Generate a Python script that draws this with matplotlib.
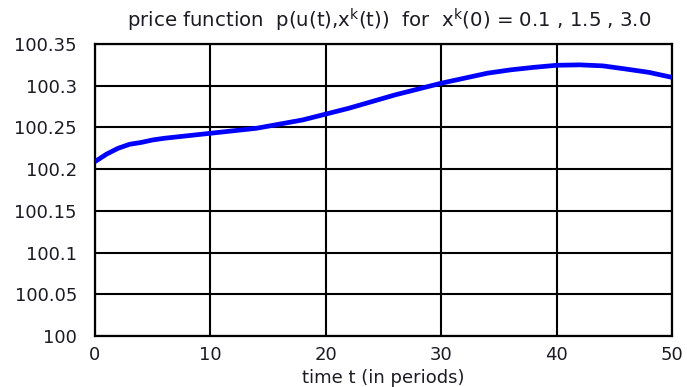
import matplotlib
matplotlib.use("Agg")
import matplotlib.pyplot as plt

# price path over time
t = [0, 1, 2, 3, 4, 5, 6, 8, 10, 12, 14, 16, 18, 20, 22, 24, 26, 28, 30,
     32, 34, 36, 38, 40, 42, 44, 46, 48, 50]
price = [100.209, 100.218, 100.225, 100.2298, 100.232, 100.235, 100.237,
         100.240, 100.243, 100.246, 100.249, 100.254, 100.259, 100.266,
         100.273, 100.281, 100.289, 100.296, 100.303, 100.309, 100.315,
         100.319, 100.322, 100.3245, 100.325, 100.3238, 100.320, 100.316,
         100.310]

x_ticks = [0, 10, 20, 30, 40, 50]
y_ticks = [100, 100.05, 100.1, 100.15, 100.2, 100.25, 100.3, 100.35]
y_tick_labels = ["100", "100.05", "100.1", "100.15", "100.2", "100.25",
                 "100.3", "100.35"]

plt.rcParams["font.family"] = ["DejaVu Sans"]
text_color = "#1c1a22"

W, H = 687, 387
fig = plt.figure(figsize=(W / 100, H / 100), dpi=100)
ax = fig.add_axes([95 / W, 1 - 336 / H, (672 - 95) / W, (336 - 44) / H])

ax.plot(t, price, color="#0000ff", linewidth=3.4, solid_capstyle="butt", zorder=3)

ax.set_xlim(0, 50)
ax.set_ylim(100, 100.35)
ax.set_xticks(x_ticks)
ax.set_yticks(y_ticks)
ax.set_yticklabels(y_tick_labels)

ax.grid(True, color="black", linewidth=1.5)
ax.set_axisbelow(True)
for sp in ax.spines.values():
    sp.set_linewidth(1.6)
    sp.set_color("black")

ax.tick_params(axis="both", length=0, labelsize=13, colors=text_color)
ax.tick_params(axis="y", pad=13)
ax.tick_params(axis="x", pad=7)

fig.text(383 / W, 1 - 383 / H, "time t (in periods)", ha="center",
         va="baseline", fontsize=13, color=text_color)
fig.text(389 / W, 1 - 27 / H,
         r"price function  p(u(t),x$^{\mathrm{k}}$(t))  for  x$^{\mathrm{k}}$(0) = 0.1 , 1.5 , 3.0",
         ha="center", va="baseline", fontsize=14.2, color=text_color)

fig.savefig("out.png", dpi=100)
